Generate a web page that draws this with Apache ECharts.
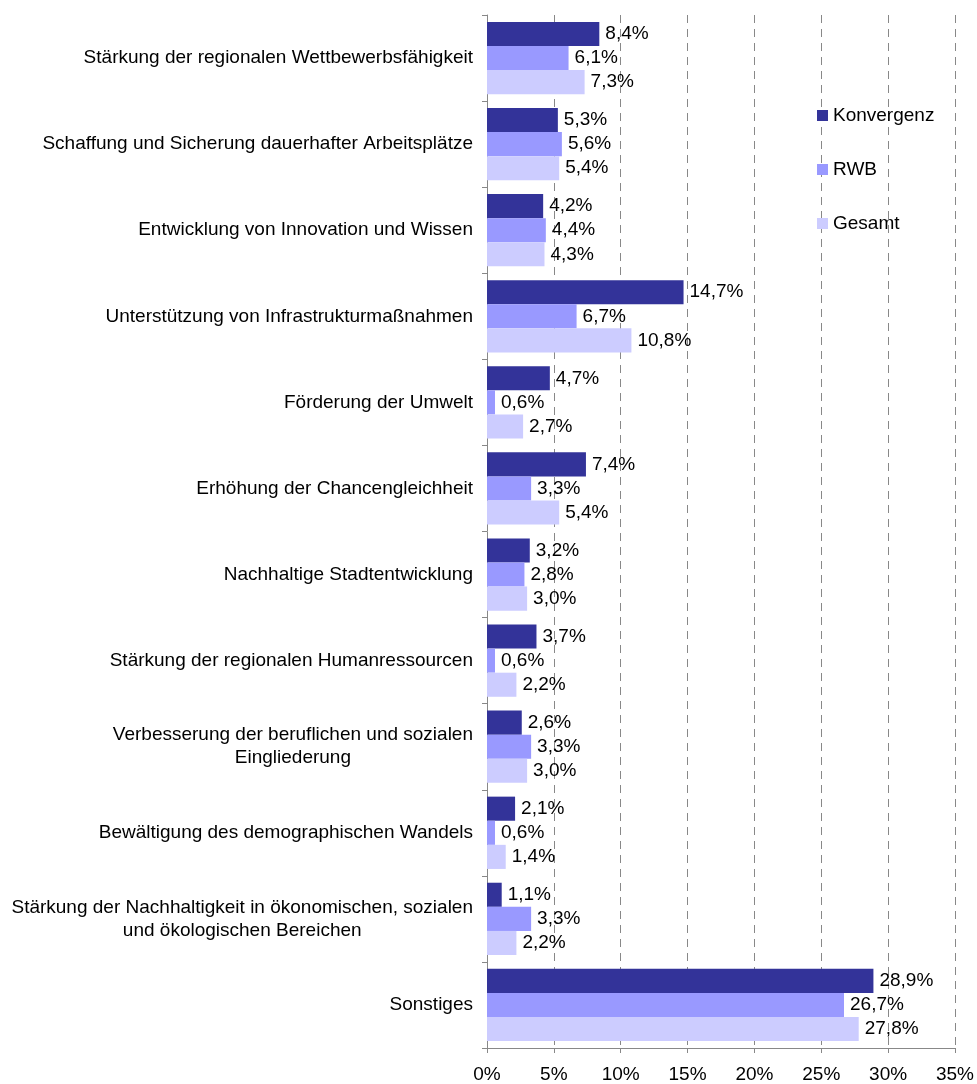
<!DOCTYPE html>
<html>
<head>
<meta charset="utf-8">
<script src="https://cdn.jsdelivr.net/npm/echarts@6/dist/echarts.min.js"></script>
<style>
  html, body { margin: 0; padding: 0; background: #fff; }
  #root { width: 977px; height: 1084px; }
</style>
</head>
<body>
<div id="root"></div>
<script>
  // categories, top to bottom
  var categories = [
    'Stärkung der regionalen Wettbewerbsfähigkeit',
    'Schaffung und Sicherung dauerhafter Arbeitsplätze',
    'Entwicklung von Innovation und Wissen',
    'Unterstützung von Infrastrukturmaßnahmen',
    'Förderung der Umwelt',
    'Erhöhung der Chancengleichheit',
    'Nachhaltige Stadtentwicklung',
    'Stärkung der regionalen Humanressourcen',
    'Verbesserung der beruflichen und sozialen\nEingliederung',
    'Bewältigung des demographischen Wandels',
    'Stärkung der Nachhaltigkeit in ökonomischen, sozialen\nund ökologischen Bereichen',
    'Sonstiges'
  ]

  var konvergenz = [8.4, 5.3, 4.2, 14.7, 4.7, 7.4, 3.2, 3.7, 2.6, 2.1, 1.1, 28.9]
  var rwb = [6.1, 5.6, 4.4, 6.7, 0.6, 3.3, 2.8, 0.6, 3.3, 0.6, 3.3, 26.7]
  var gesamt = [7.3, 5.4, 4.3, 10.8, 2.7, 5.4, 3.0, 2.2, 3.0, 1.4, 2.2, 27.8]

  var xTicks = [0, 5, 10, 15, 20, 25, 30, 35]

  var font = 'Arial, "Liberation Sans", sans-serif'

  var fmtPct = function (v) {
    return String(v.toFixed(1)).replace('.', ',') + '%'
  }

  var makeSeries = function (name, data, color) {
    return {
      name: name,
      type: 'bar',
      data: data,
      barGap: '0%',
      barCategoryGap: '16%',
      itemStyle: { color: color },
      label: {
        show: true,
        position: 'right',
        distance: 6,
        color: '#000',
        fontFamily: font,
        fontSize: 19,
        formatter: function (p) { return fmtPct(p.value) }
      }
    }
  }

  var chart = echarts.init(document.getElementById('root'))

  var option = {
    animation: false,
    backgroundColor: '#fff',
    grid: { left: 487, width: 472, top: 15, height: 1035, containLabel: false },
    legend: {
      orient: 'vertical',
      left: 812,
      top: 101,
      itemGap: 35,
      itemWidth: 11,
      itemHeight: 11,
      icon: 'rect',
      textStyle: { fontFamily: font, fontSize: 19, color: '#000' },
      data: ['Konvergenz', 'RWB', 'Gesamt']
    },
    xAxis: {
      type: 'value',
      min: xTicks[0],
      max: xTicks[xTicks.length - 1],
      interval: 5,
      axisLine: { show: true, lineStyle: { color: '#888' } },
      axisTick: { show: true, length: 5, lineStyle: { color: '#888' } },
      axisLabel: {
        color: '#000',
        fontFamily: font,
        fontSize: 19,
        margin: 17,
        formatter: function (v) { return v + '%' }
      },
      splitLine: { show: true, lineStyle: { color: '#888', type: [8, 6] } }
    },
    yAxis: {
      type: 'category',
      inverse: true,
      data: categories,
      axisLine: { show: true, lineStyle: { color: '#888' } },
      axisTick: { show: true, length: 5, lineStyle: { color: '#888' } },
      axisLabel: {
        color: '#000',
        fontFamily: font,
        fontSize: 19,
        margin: 14,
        lineHeight: 23,
        formatter: function (v) {
          return v.split('\n').map(function (l) { return '{c|' + l + '}' }).join('\n')
        },
        rich: {
          c: { align: 'center', fontFamily: font, fontSize: 19, color: '#000', lineHeight: 23 }
        }
      }
    },
    series: [
      makeSeries('Konvergenz', konvergenz, '#333399'),
      makeSeries('RWB', rwb, '#9999ff'),
      makeSeries('Gesamt', gesamt, '#ccccff')
    ]
  }

  chart.setOption(option)
</script>
</body>
</html>
